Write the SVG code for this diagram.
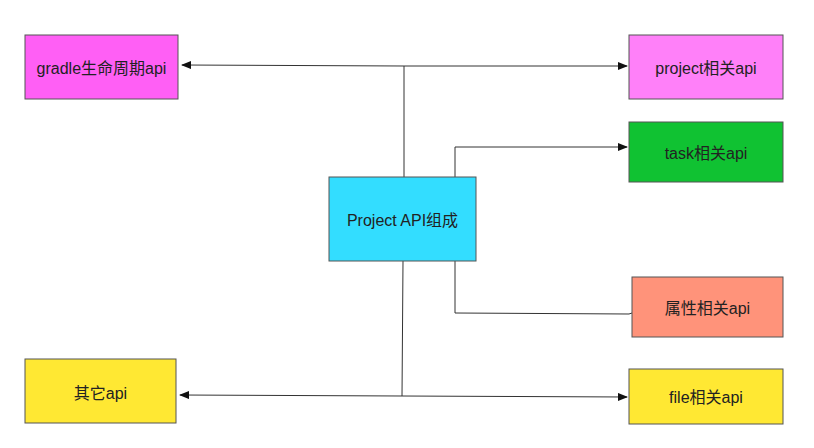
<svg xmlns="http://www.w3.org/2000/svg" width="814" height="448" viewBox="0 0 814 448">
<style>
.box{stroke:#555;stroke-width:1}
.t{font-family:"Liberation Sans","Noto Sans CJK SC",Arial,sans-serif;font-size:16px;fill:#222;text-anchor:middle;dominant-baseline:central}
.c{fill:none;stroke:#333;stroke-width:1}
</style>
<defs>
<marker id="ah" markerWidth="10" markerHeight="8" refX="9" refY="4" orient="auto" markerUnits="userSpaceOnUse">
<path d="M0,0 L10,4 L0,8 Z" fill="#111"/>
</marker>
</defs>
<rect width="814" height="448" fill="#fff"/>
<g id="connectors">
<path class="c" d="M404,66 L404,178"/>
<path class="c" d="M403,261 L402,396"/>
<path class="c" d="M404,66 L182,65" marker-end="url(#ah)"/>
<path class="c" d="M404,66 L627,66" marker-end="url(#ah)"/>
<path class="c" d="M455,178 L455,147 L627,147" marker-end="url(#ah)"/>
<path class="c" d="M455,261 L455,313 L629,314 L632,313"/>
<path class="c" d="M402,396 L180,395" marker-end="url(#ah)"/>
<path class="c" d="M402,396 L627,397" marker-end="url(#ah)"/>
</g>
<g id="gradle">
<rect class="box" x="25" y="35" width="153" height="64" fill="#ff5ff5"/>
<text class="t" x="101.5" y="68">gradle生命周期api</text>
</g>
<g id="project">
<rect class="box" x="629" y="35" width="154" height="64" fill="#ff80f9"/>
<text class="t" x="706" y="68">project相关api</text>
</g>
<g id="task">
<rect class="box" x="629" y="122" width="154" height="60" fill="#10c232"/>
<text class="t" x="706" y="153">task相关api</text>
</g>
<g id="center">
<rect class="box" x="329" y="177" width="147" height="84" fill="#33ddff"/>
<text class="t" x="402.5" y="220">Project API组成</text>
</g>
<g id="property">
<rect class="box" x="632" y="277" width="151" height="60" fill="#ff937a"/>
<text class="t" x="707.5" y="308">属性相关api</text>
</g>
<g id="file">
<rect class="box" x="629" y="369" width="154" height="55" fill="#ffe833"/>
<text class="t" x="706" y="397">file相关api</text>
</g>
<g id="other">
<rect class="box" x="25" y="359" width="151" height="64" fill="#ffe833"/>
<text class="t" x="100.5" y="393">其它api</text>
</g>
</svg>
